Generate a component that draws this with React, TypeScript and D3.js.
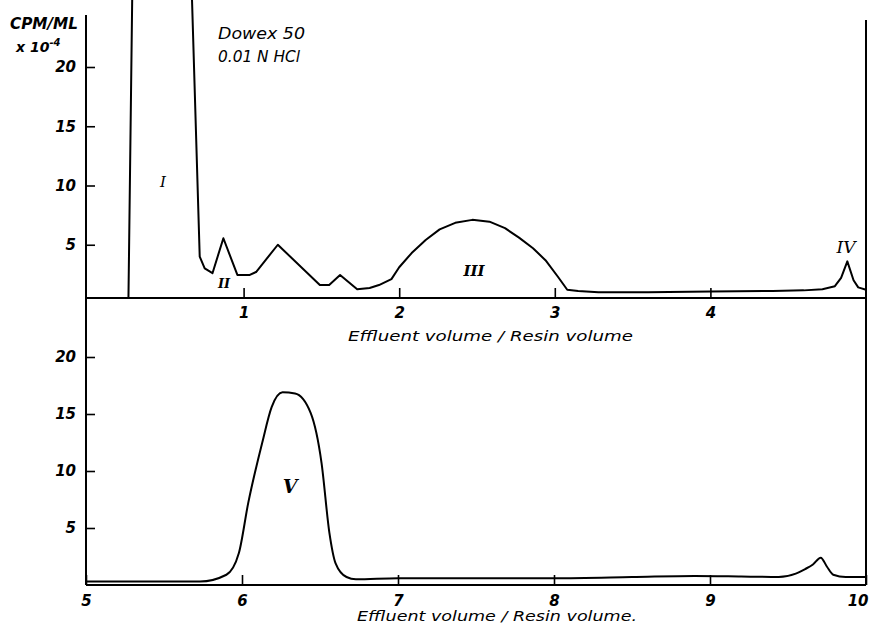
import React, {useEffect, useRef} from 'react';
import * as d3 from 'd3';

// effluent volume / resin volume vs. activity (CPM/ML x 10^-4)
const topX = [0.26, 0.29, 0.654, 0.718, 0.75, 0.80, 0.87, 0.96, 1.04, 1.08, 1.22, 1.49, 1.55, 1.62, 1.73, 1.81, 1.87, 1.95,
    2.0, 2.08, 2.17, 2.26, 2.36, 2.47, 2.58, 2.68, 2.77, 2.86, 2.94, 3.02, 3.08, 3.15, 3.28, 3.6, 4.0, 4.4, 4.6, 4.72, 4.8,
    4.84, 4.88, 4.92, 4.95, 5.0];
const topY = [0.5, 32, 32, 4.0, 3.0, 2.6, 5.55, 2.45, 2.45, 2.7, 5.0, 1.6, 1.6, 2.45, 1.25, 1.35, 1.6, 2.1,
    3.1, 4.3, 5.4, 6.3, 6.85, 7.1, 6.95, 6.4, 5.6, 4.7, 3.7, 2.3, 1.2, 1.1, 1.0, 1.0, 1.05, 1.1, 1.15, 1.25, 1.5,
    2.2, 3.6, 2.0, 1.4, 1.2];

const bottomX = [5.0, 5.4, 5.73, 5.9, 5.98, 6.04, 6.13, 6.19, 6.26, 6.34, 6.44, 6.51, 6.56, 6.60, 6.67, 6.73, 7.0, 7.5,
    8.0, 8.5, 8.9, 9.2, 9.44, 9.55, 9.61, 9.66, 9.71, 9.75, 9.79, 9.87, 10.0];
const bottomY = [0.3, 0.3, 0.3, 0.9, 2.8, 7.2, 12.5, 15.6, 16.9, 16.8, 15.1, 10.7, 4.6, 1.9, 0.7, 0.5, 0.6, 0.6,
    0.6, 0.7, 0.8, 0.75, 0.7, 1.0, 1.4, 1.8, 2.4, 1.6, 0.9, 0.7, 0.7];

const topXTicks = [1, 2, 3, 4];
const bottomXTicks = [5, 6, 7, 8, 9, 10];
const yTicks = [5, 10, 15, 20];

const xLabel = 'Effluent volume / Resin volume';

const fontSans = '"DejaVu Sans", "Liberation Sans", sans-serif';
const fontSerif = '"DejaVu Serif", "Liberation Serif", serif';

const App = () => {
    const anchor = useRef(null);

    useEffect(() => {
        const svg = d3.select(anchor.current);
        svg.selectAll('*').remove();

        const xTop = d3.scaleLinear().domain([0, 5]).range([88, 866]);
        const yTop = d3.scaleLinear().domain([0, 20]).range([304, 67]);
        const xBot = d3.scaleLinear().domain([5, 10]).range([86, 866]);
        const yBot = d3.scaleLinear().domain([0, 20]).range([585, 357]);

        const styleAxis = (g) => {
            g.select('.domain').remove();
            g.selectAll('line').attr('stroke', '#000').attr('stroke-width', 1.6);
            g.selectAll('text')
                .attr('fill', '#000')
                .style('font-family', fontSans)
                .style('font-style', 'italic')
                .style('font-weight', 'bold')
                .style('font-size', '15px');
        };

        // frame lines
        const frame = svg.append('g').attr('stroke', '#000').attr('stroke-width', 2);
        frame.append('line').attr('x1', 86).attr('x2', 86).attr('y1', 15).attr('y2', 585);
        frame.append('line').attr('x1', 866).attr('x2', 866).attr('y1', 20).attr('y2', 585);
        frame.append('line').attr('x1', 86).attr('x2', 866).attr('y1', 298).attr('y2', 298);
        frame.append('line').attr('x1', 86).attr('x2', 866).attr('y1', 585).attr('y2', 585);

        // axes
        svg.append('g').attr('transform', 'translate(0,298)')
            .call(d3.axisBottom(xTop).tickValues(topXTicks).tickSize(-10).tickPadding(9).tickFormat(d3.format('d')))
            .call(styleAxis);
        svg.append('g').attr('transform', 'translate(86,0)')
            .call(d3.axisLeft(yTop).tickValues(yTicks).tickSize(-9).tickPadding(10).tickFormat(d3.format('d')))
            .call(styleAxis);
        const bottomAxis = svg.append('g').attr('transform', 'translate(0,585)')
            .call(d3.axisBottom(xBot).tickValues(bottomXTicks).tickSize(-10).tickPadding(10).tickFormat(d3.format('d')))
            .call(styleAxis);
        // last label sits against the right edge
        bottomAxis.selectAll('.tick text').filter((d) => d === 10).attr('text-anchor', 'end').attr('dx', 2);
        svg.append('g').attr('transform', 'translate(86,0)')
            .call(d3.axisLeft(yBot).tickValues(yTicks).tickSize(-9).tickPadding(10).tickFormat(d3.format('d')))
            .call(styleAxis);

        // curves
        const topLine = d3.line().x((d) => xTop(d[0])).y((d) => yTop(d[1]));
        svg.append('path')
            .datum(topX.map((x, i) => [x, topY[i]]))
            .attr('d', topLine)
            .attr('fill', 'none')
            .attr('stroke', '#000')
            .attr('stroke-width', 2)
            .attr('stroke-linejoin', 'round');

        const bottomLine = d3.line().x((d) => xBot(d[0])).y((d) => yBot(d[1])).curve(d3.curveMonotoneX);
        svg.append('path')
            .datum(bottomX.map((x, i) => [x, bottomY[i]]))
            .attr('d', bottomLine)
            .attr('fill', 'none')
            .attr('stroke', '#000')
            .attr('stroke-width', 2);

        // axis titles
        const addText = (x, y, txt, size, opts = {}) => {
            const t = svg.append('text')
                .attr('x', x)
                .attr('y', y)
                .attr('fill', '#000')
                .style('font-family', opts.family || fontSans)
                .style('font-style', 'italic')
                .style('font-weight', opts.weight || 'normal')
                .style('font-size', size + 'px')
                .text(txt);
            if (opts.anchor) t.attr('text-anchor', opts.anchor);
            if (opts.len) t.attr('textLength', opts.len).attr('lengthAdjust', 'spacingAndGlyphs');
            return t;
        };

        addText(348, 341, xLabel, 14, {len: 285});
        addText(357, 621, xLabel + '.', 14, {len: 280});

        addText(10, 29, 'CPM/ML', 15, {weight: 'bold', len: 68});
        const pow = addText(16, 52, 'x 10', 14, {weight: 'bold'});
        pow.append('tspan').attr('dy', -6).style('font-size', '10px').text('-4');

        addText(218, 39, 'Dowex  50', 16, {len: 87});
        addText(218, 62, '0.01 N HCl', 15, {len: 82});

        // peak labels
        addText(163, 187, 'I', 15, {family: fontSerif, anchor: 'middle'});
        addText(224, 288, 'II', 13, {family: fontSerif, anchor: 'middle', weight: 'bold'});
        addText(474, 276, 'III', 15, {family: fontSerif, anchor: 'middle', weight: 'bold'});
        addText(846, 253, 'IV', 17, {family: fontSerif, anchor: 'middle'});
        addText(290, 493, 'V', 19, {family: fontSerif, anchor: 'middle', weight: 'bold'});
    }, []);

    return <svg ref={anchor} width={869} height={631}
                style={{position: 'absolute', left: 0, top: 0, background: '#fff', display: 'block'}}/>;
};

export default App;
